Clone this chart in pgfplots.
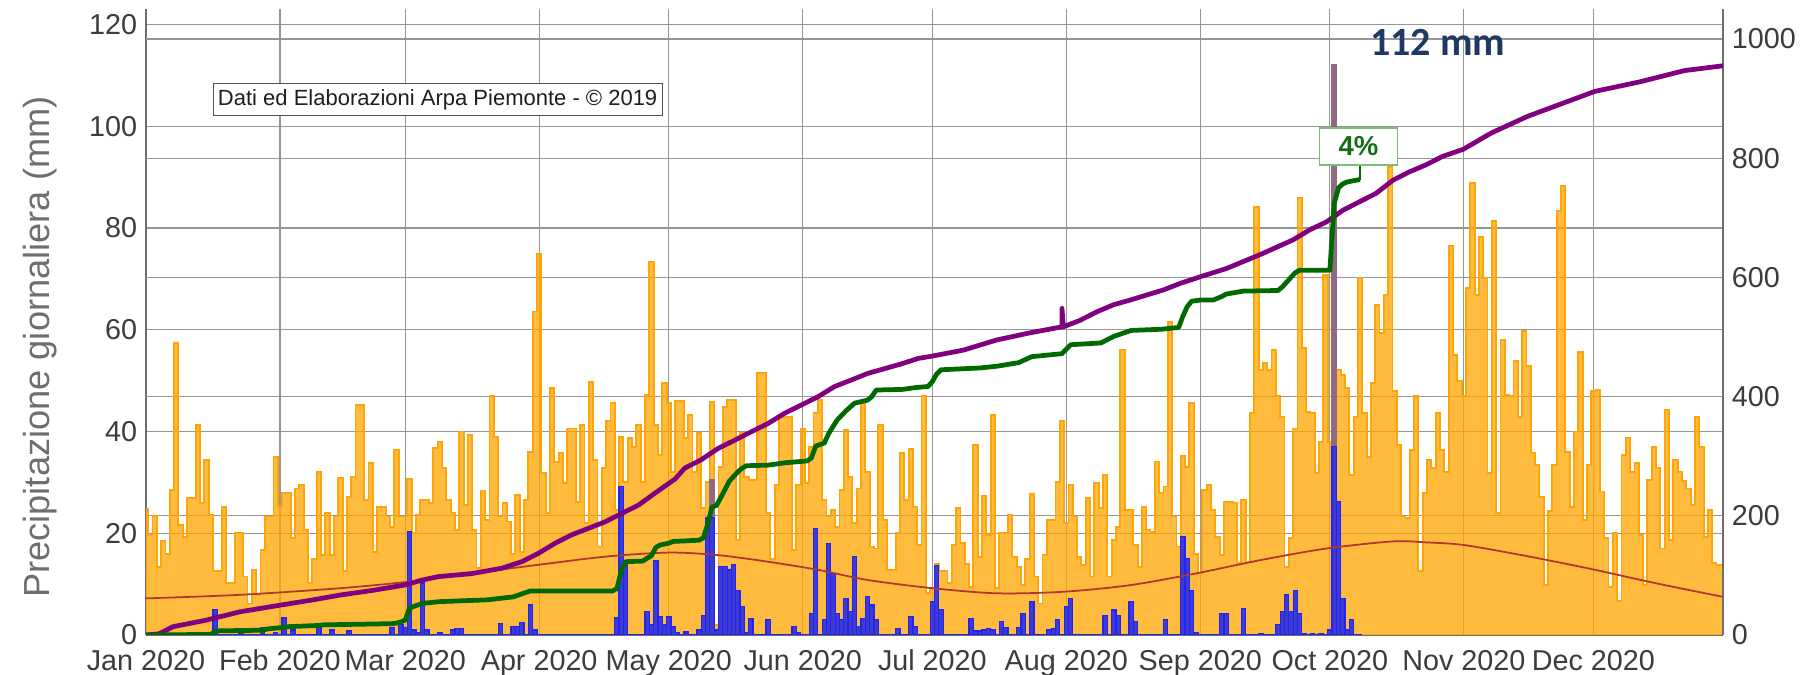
\documentclass[border=0pt]{standalone}
\usepackage{pgfplots}
\pgfplotsset{compat=1.18}
\usepackage{pgfplotstable}
\usepackage{fontspec}
\setmainfont{Liberation Sans}
\newfontfamily\carlito{Carlito}
\definecolor{orangefill}{RGB}{255,165,0}
\definecolor{orangeline}{RGB}{255,165,10}
\definecolor{bluefill}{RGB}{60,60,210}
\definecolor{blueline}{RGB}{35,35,245}
\definecolor{greybar}{RGB}{145,105,130}
\definecolor{redline}{RGB}{175,55,45}
\definecolor{purpleline}{RGB}{128,0,128}
\definecolor{greenline}{RGB}{0,105,0}
\definecolor{gridgray}{RGB}{150,150,150}
\definecolor{axisgray}{RGB}{110,110,110}
\definecolor{ticktext}{RGB}{60,60,60}
\definecolor{labelgray}{RGB}{110,110,110}
\definecolor{navy}{RGB}{31,56,100}
\definecolor{boxgreen}{RGB}{120,190,120}
\definecolor{textgreen}{RGB}{20,110,20}
\definecolor{boxborder}{RGB}{80,80,80}
\definecolor{boxtext}{RGB}{30,30,30}

\pgfplotstableread[row sep=\\]{
y\\
24.7\\19.7\\23.4\\13.4\\18.4\\16\\28.5\\57.4\\21.6\\19.3\\
26.9\\26.9\\41.3\\25.9\\34.4\\23.6\\12.5\\12.5\\25.2\\10.2\\
10.2\\20\\20\\11.5\\6.2\\12.8\\7.9\\16.7\\23.3\\23.3\\
35\\25.2\\27.9\\27.9\\19\\28.8\\29.5\\20.6\\10.2\\15\\
32.1\\15.7\\23.9\\15.7\\23.3\\30.8\\12.5\\27.2\\31.1\\45.2\\
45.2\\26.5\\33.8\\16.4\\25.2\\25.2\\23.3\\21.3\\36.4\\23.3\\
23.3\\30.6\\20\\23.6\\26.5\\26.5\\25.9\\36.7\\38\\32.8\\
26.5\\23.9\\20.6\\40\\25.6\\39.3\\20.6\\13.1\\28.4\\22.6\\
46.9\\39\\23.3\\25.9\\22.3\\16\\27.5\\16.4\\26.5\\36\\
63.6\\75\\31.8\\23.9\\48.5\\34\\35.7\\29.8\\40.6\\40.6\\
26.2\\41.3\\22\\49.8\\34.4\\17.4\\32.8\\42\\45.6\\24.6\\
39\\30\\38.8\\37\\41.3\\30\\47.2\\73.4\\41.3\\35.4\\
49.5\\45.6\\32\\46\\46\\38.7\\43.3\\32\\39.7\\25\\
30\\45.9\\2\\33\\44.9\\46.2\\46.2\\18.7\\39.7\\31\\
30.5\\30.5\\51.5\\51.5\\23.9\\15\\29.5\\42.9\\42.9\\42.9\\
16.7\\29.5\\40.6\\29.8\\37\\43.6\\46.2\\26.5\\23.3\\24.6\\
21.3\\28.5\\40.3\\31.1\\22\\28.8\\45.6\\32\\17.4\\17\\
41.3\\22.6\\12.8\\12.8\\20\\35.7\\26.5\\36.5\\25.2\\17.7\\
46.9\\8.2\\9.2\\14\\12.5\\12.5\\10.2\\17.7\\24.9\\18\\
14\\9.5\\37.4\\15.4\\27.3\\19.7\\43.3\\9.2\\20\\20\\
23.6\\15.4\\13.4\\9.8\\15\\27.7\\11.5\\6.2\\15.7\\22.6\\
22.6\\30\\42\\22\\29.5\\23.3\\15.4\\13.8\\26.9\\11.5\\
29.8\\25\\31.5\\11.5\\18.7\\21.3\\56\\24.6\\24.6\\17.7\\
13.4\\25.2\\20.6\\20.3\\34.1\\27.9\\29.2\\61.6\\23.3\\17.4\\
35.2\\33.1\\45.6\\16\\12\\28.5\\29.5\\24.6\\19.3\\15.7\\
26.2\\26.2\\25.9\\14.1\\26.5\\14.4\\43.6\\84.2\\52.1\\53.4\\
52.1\\56\\46.9\\42.9\\13.4\\19\\40.6\\85.9\\56.4\\43.9\\
43.6\\31.8\\38\\70.8\\38\\60\\52.1\\51.1\\48.5\\31.5\\
42.9\\70.1\\43.6\\35\\49.5\\64.9\\59.3\\66.9\\92\\47.9\\
37.4\\23.3\\23\\36.4\\46.9\\12.5\\27.9\\34.4\\32.8\\43.7\\
36.4\\32.1\\76.5\\55\\50\\46.9\\68.2\\88.8\\66.9\\78.3\\
70.1\\31.8\\81.3\\23.9\\58\\47.2\\46.9\\53.8\\42.9\\59.7\\
52.8\\35.7\\33.4\\27.2\\9.8\\24.3\\33.4\\83.3\\88.2\\36\\
25.2\\40\\55.7\\22.6\\33.4\\47.9\\48.2\\28.2\\19\\9.5\\
20\\6.6\\35.4\\38.7\\32.1\\33.8\\19.7\\9.8\\30.5\\37\\
32.8\\17\\44.2\\18.7\\34.4\\32.1\\30.2\\28.8\\25.6\\42.9\\
37\\19.3\\24.6\\14.1\\13.8\\13.8\\
}\orangedata

\begin{document}
\begin{tikzpicture}
\useasboundingbox (0,0) rectangle (722pt,270pt);
\begin{axis}[
  at={(58.4pt,16pt)}, anchor=south west,
  scale only axis, width=630.8pt, height=250.4pt,
  xmin=0, xmax=365, ymin=0, ymax=123.06,
  axis x line*=bottom, axis y line*=left,
  axis line style={draw=axisgray, line width=0.5pt},
  xtick={0,31,60,91,121,152,182,213,244,274,305,335},
  xticklabels={Jan 2020,Feb 2020,Mar 2020,Apr 2020,May 2020,Jun 2020,Jul 2020,Aug 2020,Sep 2020,Oct 2020,Nov 2020,Dec 2020},
  xticklabel style={yshift=-2.5pt},
  ytick={0,20,40,60,80,100,120},
  extra y ticks={23.433,46.866,70.300,93.733,117.166},
  extra y tick labels={},
  extra y tick style={grid=major},
  grid=major, grid style={draw=gridgray, line width=0.5pt},
  major tick length=0pt,
  tick label style={font=\fontsize{11.5}{13}\selectfont, text=ticktext},
  /pgf/number format/assume math mode=true,
  ylabel={Precipitazione giornaliera (mm)},
  ylabel style={at={(axis description cs:-0.0672,0.46)}, anchor=center, font=\fontsize{14.5}{16}\selectfont, text=labelgray},
]
\addplot[const plot mark mid, fill=orangefill, fill opacity=0.76, draw=orangeline, line width=0.75pt]
  table[x expr=\coordindex, y=y] {\orangedata} \closedcycle;
\addplot[ybar, bar width=1, bar shift=0pt, fill=greybar, draw=greybar, line width=0.7pt]
  coordinates {(131,30.5) (275,112)};
\addplot[draw=blueline, line width=0.8pt] coordinates {(0,0) (281.5,0)};
\addplot[ybar, bar width=1, bar shift=0pt, fill=bluefill, draw=blueline, line width=0.5pt] coordinates {
(5,0.3) (10,0.3) (16,5) (22,0.5) (27,1.5) (30,0.5) (32,3.5) (34,1) (40,1.5) (43,1) (47,0.8) (57,1.5) (59,2) (60,1.5)
(61,20.3) (62,1) (63,0.5) (64,10.2) (65,1) (68,0.5) (71,1) (72,1.3) (73,1.3) (82,2.3) (85,1.6) (86,1.6) (87,2.5) (89,5.9) (90,1)
(109,3.5) (110,29.2) (111,14.7) (116,4.6) (117,2) (118,14.6) (119,3.6) (120,2) (121,3.6) (122,1.6) (123,0.5) (125,0.6)
(128,1) (129,3.9) (130,23) (131,23) (132,1) (133,13.4) (134,13.4) (135,12.8) (136,13.8) (137,8.8) (138,5.6) (139,0.5) (140,3.3)
(144,3) (150,1.6) (151,0.5) (154,4.3) (155,21) (157,3) (158,18) (159,12.1) (160,4.3) (161,3) (162,7.2) (163,4.6) (164,15.4)
(165,1.6) (166,3.3) (167,7.5) (168,5.9) (169,3) (174,1.3) (177,3.6) (178,1.6) (182,6.6) (183,13.6) (184,5)
(191,3.3) (192,0.8) (193,0.8) (194,1) (195,1.3) (196,1) (198,2.6) (199,1.5) (202,1.5) (203,4.3) (205,6.6)
(209,1) (210,1.3) (211,3) (213,5.6) (214,7.2) (222,3.9) (224,4.9) (225,3.9) (228,6.6) (229,2.6) (236,3)
(240,19.3) (241,15) (242,8.8) (243,0.5) (249,4.3) (250,4.3) (254,5.2) (258,0.3) (262,2) (263,4.6) (264,7.9) (265,4.6)
(266,8.8) (267,4.3) (268,0.3) (270,0.3) (272,0.3) (274,1) (275,37) (276,26.2) (277,7.2) (278,1) (279,3)
};
\addplot[draw=redline, line width=0.7pt, smooth, tension=0.5] coordinates {
(0,7.2) (21.8,7.9) (45,9.2) (61,10.5) (75.4,12.1) (90.8,13.8) (106.3,15.4) (121,16.2) (132.4,15.7) (144,14.4)
(155.6,12.8) (167.1,10.8) (182,9.2) (196.9,8.2) (212.3,8.5) (227.8,9.8) (243,12.1) (257.8,14.7) (273.2,17)
(288.6,18.4) (296.3,18.2) (304.9,17.7) (318.4,15.7) (333.8,13.1) (349.3,10.2) (365,7.5)
};
\node[draw=boxborder, line width=0.5pt, fill=white, inner sep=0pt, minimum width=179.6pt, minimum height=12.8pt,
  font=\fontsize{8.8}{10}\selectfont, text=boxtext] at (axis cs:67.5,105.2) {Dati ed Elaborazioni Arpa Piemonte - © 2019};
\end{axis}

\begin{axis}[
  at={(58.4pt,16pt)}, anchor=south west,
  scale only axis, width=630.8pt, height=250.4pt,
  xmin=0, xmax=365, ymin=0, ymax=1050.3,
  axis x line=none, axis y line*=right,
  axis line style={draw=axisgray, line width=0.5pt},
  ytick={0,200,400,600,800,1000},
  major tick length=0pt,
  tick label style={font=\fontsize{11.5}{13}\selectfont, text=ticktext},
  /pgf/number format/assume math mode=true,
  /pgf/number format/1000 sep={},
]
\addplot[draw=purpleline, line width=1.9pt, line join=round] coordinates {
(0,0) (3,2) (6.3,14) (14,25) (21.8,39) (31,50) (38.7,59) (44.9,67) (52.6,75) (60,84) (63.8,92) (67.7,98)
(75.4,103) (82.3,112) (87,123) (90.8,137) (94.7,154) (98.5,168) (102.4,179) (106.3,190) (110.1,204) (114,218)
(117.8,238) (122.5,262) (124.7,280) (128.5,294) (132.4,313) (136.3,327) (140.1,341) (144,355) (147.8,372)
(151.7,386) (155.6,400) (159.4,417) (163.3,428) (167.1,439) (171,447) (174.9,455) (178.7,464) (182,468)
(189.2,478) (196.9,495) (204.6,507) (212,517) (212,548) (212.3,517) (216.2,528) (220,542) (223.9,554)
(227.8,562) (235.5,579) (239.4,590) (244,601) (250.1,615) (257.8,638) (265.5,663) (269.4,680) (273.2,693)
(277.1,713) (280.9,727) (284.7,741) (288.6,763) (292.4,777) (296.3,789) (300.1,803) (304.9,815) (311.3,842)
(319.7,870) (335.3,912) (345.7,928) (356.1,947) (365,955)
};
\addplot[draw=greenline, line width=1.9pt, line join=round] coordinates {
(0,0) (15,1) (16,6) (17,7) (27,8) (28,10) (32,13) (33,14) (40,16) (41,17) (57,19) (58,20) (59,22) (60,25)
(61,45) (62,48) (64,53) (68,56) (79,59) (85,64) (89,74) (108,74) (109,78) (110,108) (111,123) (115,124)
(116,129) (117,133) (118,147) (119,151) (121,154) (122,157) (128,159) (129,163) (130,186) (131,215) (132,217)
(133,230) (134,244) (135,258) (137,274) (138,280) (139,284) (144,285) (148,289) (153,292) (154,297) (155,317)
(157,322) (158,338) (160,361) (162,376) (164,389) (167,394) (168,400) (169,411) (175,412) (178,415) (181,417)
(182,425) (183,438) (184,445) (193,448) (197,451) (202,457) (205,467) (212,472) (214,487) (221,490) (224,501)
(228,511) (235,513) (239,516) (240,535) (241,551) (242,560) (244,562) (247,562) (249,568) (250,572) (254,577)
(262,578) (263,584) (264,592) (265,600) (266,608) (267,612) (274,612) (275,724) (276,750) (277,757) (278,760)
(280,763) (281,764)
};
\draw[draw=greenline, line width=0.7pt] (axis cs:281,764) -- (axis cs:281,789);
\node[draw=boxgreen, line width=0.6pt, fill=white, inner sep=0pt, minimum width=31.2pt, minimum height=14.8pt,
  font=\bfseries\fontsize{11}{12}\selectfont, text=textgreen] at (axis cs:280.6,819.6) {4\%};
\node[font=\carlito\bfseries\fontsize{16}{18}\selectfont, text=navy] at (axis cs:299,995) {112 mm};
\end{axis}
\end{tikzpicture}
\end{document}
